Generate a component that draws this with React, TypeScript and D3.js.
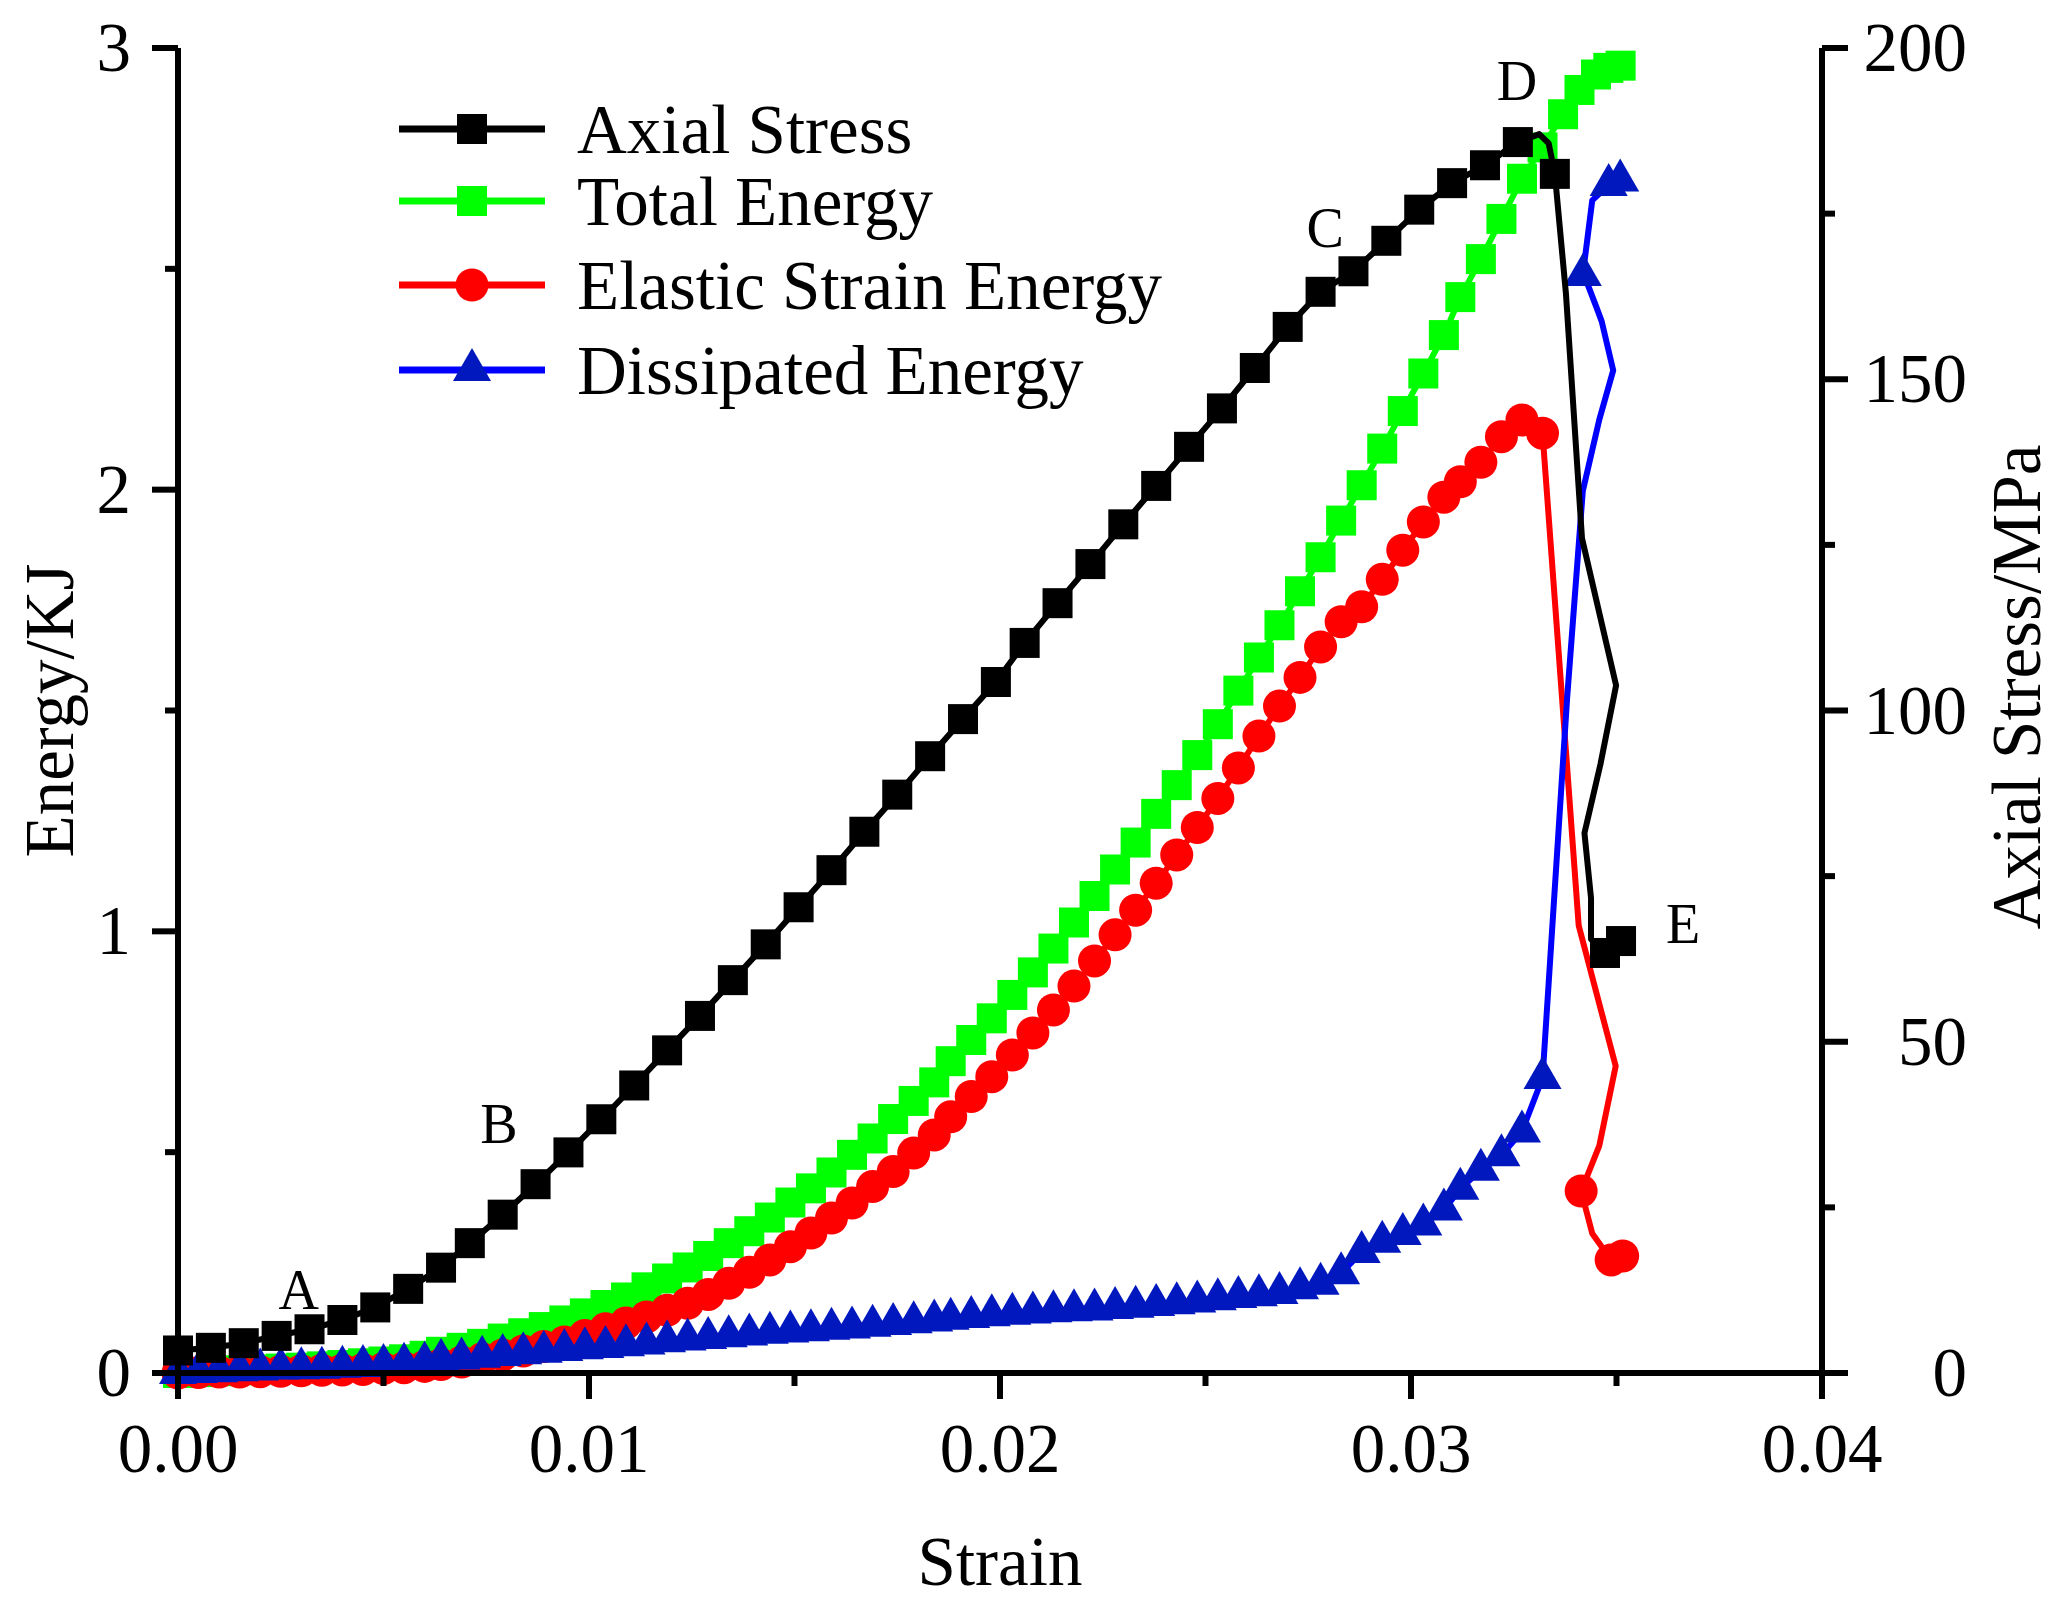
import React from "react";
import * as d3 from "d3";

// strain grid shared by the three energy series (pre-peak part)
const energyStrain = [
  0, 0.0005, 0.001, 0.0015, 0.002, 0.0025, 0.003, 0.0035, 0.004, 0.0045,
  0.005, 0.0055, 0.006, 0.0064, 0.0069, 0.0074, 0.0079, 0.0084, 0.0089, 0.0094,
  0.0099, 0.0104, 0.0109, 0.0114, 0.0119, 0.0124, 0.0129, 0.0134, 0.0139, 0.0144,
  0.0149, 0.0154, 0.0159, 0.0164, 0.0169, 0.0174, 0.0179, 0.0184, 0.0188, 0.0193,
  0.0198, 0.0203, 0.0208, 0.0213, 0.0218, 0.0223, 0.0228, 0.0233, 0.0238, 0.0243,
  0.0248, 0.0253, 0.0258, 0.0263, 0.0268, 0.0273, 0.0278, 0.0283, 0.0288, 0.0293,
  0.0298, 0.0303, 0.0308, 0.0312, 0.0317, 0.0322, 0.0327, 0.0332,
];
const totalEnergy = [
  0, 0.002, 0.004, 0.006, 0.008, 0.01, 0.012, 0.015, 0.018, 0.022,
  0.026, 0.031, 0.039, 0.048, 0.057, 0.066, 0.078, 0.09, 0.104, 0.119,
  0.135, 0.154, 0.171, 0.194, 0.214, 0.239, 0.265, 0.294, 0.321, 0.352,
  0.386, 0.418, 0.454, 0.494, 0.531, 0.575, 0.616, 0.658, 0.706, 0.754,
  0.803, 0.856, 0.907, 0.961, 1.02, 1.08, 1.14, 1.201, 1.266, 1.331,
  1.399, 1.469, 1.545, 1.62, 1.693, 1.77, 1.847, 1.93, 2.01, 2.093,
  2.178, 2.263, 2.35, 2.436, 2.522, 2.613, 2.704, 2.775,
];
const elasticEnergy = [
  0, 0.001, 0.002, 0.002, 0.003, 0.004, 0.005, 0.006, 0.007, 0.008,
  0.01, 0.012, 0.015, 0.019, 0.025, 0.032, 0.041, 0.05, 0.06, 0.07,
  0.085, 0.1, 0.113, 0.127, 0.142, 0.158, 0.178, 0.203, 0.228, 0.256,
  0.286, 0.317, 0.351, 0.385, 0.422, 0.456, 0.498, 0.539, 0.58, 0.626,
  0.671, 0.72, 0.77, 0.822, 0.876, 0.933, 0.992, 1.048, 1.109, 1.173,
  1.235, 1.301, 1.37, 1.442, 1.51, 1.575, 1.644, 1.701, 1.735, 1.797,
  1.863, 1.927, 1.983, 2.018, 2.062, 2.12, 2.158, 2.128,
];
const dissipatedEnergy = [
  0, 0.002, 0.004, 0.006, 0.008, 0.01, 0.011, 0.012, 0.014, 0.016,
  0.018, 0.021, 0.024, 0.03, 0.033, 0.037, 0.041, 0.045, 0.048, 0.052,
  0.056, 0.059, 0.063, 0.067, 0.072, 0.076, 0.079, 0.083, 0.087, 0.091,
  0.094, 0.097, 0.1, 0.103, 0.107, 0.111, 0.115, 0.119, 0.123, 0.127,
  0.131, 0.134, 0.137, 0.14, 0.142, 0.144, 0.147, 0.15, 0.154, 0.158,
  0.162, 0.167, 0.172, 0.176, 0.181, 0.192, 0.202, 0.226, 0.274, 0.297,
  0.315, 0.336, 0.37, 0.417, 0.46, 0.493, 0.547, 0.668,
];

// post-peak parts (1 = drawn with a marker, 0 = line vertex only)
const totalTailStrain = [0.0337, 0.0341, 0.0345, 0.0348, 0.0351];
const totalTailEnergy = [2.85, 2.905, 2.94, 2.955, 2.96];
const totalTailMarked = [1, 1, 1, 1, 1];

const elasticTailStrain = [0.0338, 0.03408, 0.03498, 0.03458, 0.03414, 0.03441, 0.03487, 0.03515];
const elasticTailEnergy = [1.37, 1.013, 0.695, 0.514, 0.412, 0.316, 0.256, 0.265];
const elasticTailMarked = [0, 0, 0, 0, 1, 0, 1, 1];

const dissipatedTailStrain = [0.0338, 0.03418, 0.03458, 0.03492, 0.03464, 0.03452, 0.03431, 0.03418, 0.03441, 0.03481, 0.03509];
const dissipatedTailEnergy = [1.53, 1.997, 2.158, 2.27, 2.381, 2.411, 2.462, 2.486, 2.655, 2.69, 2.7];
const dissipatedTailMarked = [0, 0, 0, 0, 0, 0, 0, 1, 0, 1, 1];

// axial stress (right axis)
const stressStrain = [
  0, 0.0008, 0.0016, 0.0024, 0.0032, 0.004, 0.0048, 0.0056, 0.0064, 0.0071,
  0.0079, 0.0087, 0.0095, 0.0103, 0.0111, 0.0119, 0.0127, 0.0135, 0.0143, 0.0151,
  0.0159, 0.0167, 0.0175, 0.0183, 0.0191, 0.0199, 0.0206, 0.0214, 0.0222, 0.023,
  0.0238, 0.0246, 0.0254, 0.0262, 0.027, 0.0278, 0.0286, 0.0294, 0.0302, 0.031,
  0.0318, 0.0326,
  0.03312, 0.03335, 0.0335, 0.03377, 0.03416, 0.03499, 0.03461, 0.03422, 0.03438, 0.03438,
  0.03472, 0.03511,
];
const stressMPa = [
  3.4, 3.8, 4.5, 5.6, 6.6, 8.0, 9.9, 12.7, 15.9, 19.6,
  23.9, 28.5, 33.3, 38.3, 43.4, 48.7, 53.9, 59.3, 64.7, 70.3,
  75.9, 81.7, 87.3, 93.1, 98.7, 104.3, 110.2, 116.2, 122.1, 128.1,
  133.9, 139.8, 145.6, 151.7, 157.9, 163.2, 166.3, 170.9, 175.6, 179.6,
  182.3, 185.8,
  187.0, 185.6, 181.0, 162.9, 126.0, 103.8, 91.9, 81.5, 71.7, 65.5,
  63.4, 65.2,
];
const stressTailMarked = [0, 0, 1, 0, 0, 0, 0, 0, 0, 0, 1, 1];

const xTicks = [0, 0.01, 0.02, 0.03, 0.04];
const xTickLabels = ["0.00", "0.01", "0.02", "0.03", "0.04"];
const energyTicks = [0, 1, 2, 3];
const stressTicks = [0, 50, 100, 150, 200];

const legendLabels = ["Axial Stress", "Total Energy", "Elastic Strain Energy", "Dissipated Energy"];

// stage letters, placed in (strain, stress) coordinates
const stageLetters = ["A", "B", "C", "D", "E"];
const stageStrain = [0.00294, 0.00781, 0.02791, 0.03258, 0.03662];
const stageStress = [9.7, 34.7, 170.0, 192.2, 64.9];

const FONT = '"Liberation Serif", "Times New Roman", Times, serif';

type Pt = { s: number; v: number; m: number };

function joinSeries(xs: number[], ys: number[], tx: number[], ty: number[], tm: number[]): Pt[] {
  const head = xs.map((s, i) => ({ s, v: ys[i], m: 1 }));
  const tail = tx.map((s, i) => ({ s, v: ty[i], m: tm[i] }));
  return head.concat(tail);
}

const SQ = 30;
const CIRC_R = 16.5;
const TRI_W = 38;
const TRI_H = 33;

function Marker({ shape, cx, cy, fill }: { shape: string; cx: number; cy: number; fill: string }) {
  if (shape === "square")
    return <rect x={cx - SQ / 2} y={cy - SQ / 2} width={SQ} height={SQ} fill={fill} />;
  if (shape === "circle") return <circle cx={cx} cy={cy} r={CIRC_R} fill={fill} />;
  const d = `M${cx},${cy - (2 * TRI_H) / 3}L${cx - TRI_W / 2},${cy + TRI_H / 3}L${cx + TRI_W / 2},${cy + TRI_H / 3}Z`;
  return <path d={d} fill={fill} />;
}

export default function App() {
  const W = 2071;
  const H = 1605;
  const left = 178, right = 1822, top = 48, bottom = 1373;

  const x = d3.scaleLinear().domain([0, 0.04]).range([left, right]);
  const yE = d3.scaleLinear().domain([0, 3]).range([bottom, top]);
  const yS = d3.scaleLinear().domain([0, 200]).range([bottom, top]);

  const stressMarks = stressStrain.map((_, i) => (i < 42 ? 1 : stressTailMarked[i - 42]));
  const stress: Pt[] = stressStrain.map((s, i) => ({ s, v: stressMPa[i], m: stressMarks[i] }));
  const total = joinSeries(energyStrain, totalEnergy, totalTailStrain, totalTailEnergy, totalTailMarked);
  const elastic = joinSeries(energyStrain, elasticEnergy, elasticTailStrain, elasticTailEnergy, elasticTailMarked);
  const dissipated = joinSeries(energyStrain, dissipatedEnergy, dissipatedTailStrain, dissipatedTailEnergy, dissipatedTailMarked);

  const lineE = d3.line<Pt>().x((d) => x(d.s)).y((d) => yE(d.v));
  const lineS = d3.line<Pt>().x((d) => x(d.s)).y((d) => yS(d.v));

  const series = [
    { data: total, line: lineE, y: yE, color: "#00ff00", mark: "#00ff00", shape: "square" },
    { data: elastic, line: lineE, y: yE, color: "#ff0000", mark: "#ff0000", shape: "circle" },
    { data: dissipated, line: lineE, y: yE, color: "#0000ff", mark: "#0018be", shape: "triangle" },
    { data: stress, line: lineS, y: yS, color: "#000000", mark: "#000000", shape: "square" },
  ];

  const legendStyle = [
    { color: "#000000", mark: "#000000", shape: "square" },
    { color: "#00ff00", mark: "#00ff00", shape: "square" },
    { color: "#ff0000", mark: "#ff0000", shape: "circle" },
    { color: "#0000ff", mark: "#0018be", shape: "triangle" },
  ];
  const legendRows = [129, 201, 285, 370];

  const xMinor = d3.range(0.005, 0.04, 0.01);
  const eMinor = [0.5, 1.5, 2.5];
  const sMinor = [25, 75, 125, 175];

  const axisW = 6;
  const fs = 69;

  return (
    <svg
      width={W}
      height={H}
      viewBox={`0 0 ${W} ${H}`}
      style={{ position: "absolute", left: 0, top: 0, background: "#fff" }}
      fontFamily={FONT}
    >
      <rect width={W} height={H} fill="#fff" />

      {/* series: energies first, stress on top */}
      {series.map((sr, k) => (
        <g key={k}>
          <path
            d={sr.line(sr.data) || ""}
            fill="none"
            stroke={sr.color}
            strokeWidth={6}
            strokeLinejoin="round"
            strokeLinecap="round"
          />
          {sr.data
            .filter((d) => d.m === 1)
            .map((d, i) => (
              <Marker key={i} shape={sr.shape} cx={x(d.s)} cy={sr.y(d.v)} fill={sr.mark} />
            ))}
        </g>
      ))}

      {/* axes */}
      <g stroke="#000" strokeWidth={axisW} fill="none">
        <line x1={left} y1={top} x2={left} y2={bottom + axisW / 2} />
        <line x1={right} y1={top} x2={right} y2={bottom + axisW / 2} />
        <line x1={left} y1={bottom} x2={right} y2={bottom} />
        {xTicks.map((t) => (
          <line key={"xt" + t} x1={x(t)} y1={bottom} x2={x(t)} y2={bottom + 26} />
        ))}
        {xMinor.map((t) => (
          <line key={"xm" + t} x1={x(t)} y1={bottom} x2={x(t)} y2={bottom + 13} />
        ))}
        {energyTicks.map((t) => (
          <line key={"et" + t} x1={left} y1={yE(t)} x2={left - 26} y2={yE(t)} />
        ))}
        {eMinor.map((t) => (
          <line key={"em" + t} x1={left} y1={yE(t)} x2={left - 13} y2={yE(t)} />
        ))}
        {stressTicks.map((t) => (
          <line key={"st" + t} x1={right} y1={yS(t)} x2={right + 26} y2={yS(t)} />
        ))}
        {sMinor.map((t) => (
          <line key={"sm" + t} x1={right} y1={yS(t)} x2={right + 13} y2={yS(t)} />
        ))}
      </g>

      {/* tick labels */}
      <g fontSize={fs} fill="#000">
        {xTicks.map((t, i) => (
          <text key={"xl" + t} x={x(t)} y={1472} textAnchor="middle">
            {xTickLabels[i]}
          </text>
        ))}
        {energyTicks.map((t) => (
          <text key={"el" + t} x={131} y={yE(t) + 23} textAnchor="end">
            {t}
          </text>
        ))}
        {stressTicks.map((t) => (
          <text key={"sl" + t} x={1967} y={yS(t) + 23} textAnchor="end">
            {t}
          </text>
        ))}
      </g>

      {/* axis titles */}
      <g fontSize={fs} fill="#000">
        <text x={(left + right) / 2} y={1585} textAnchor="middle">
          Strain
        </text>
        <text transform={`translate(73,${(top + bottom) / 2}) rotate(-90)`} textAnchor="middle">
          Energy/KJ
        </text>
        <text transform={`translate(2040,687) rotate(-90)`} textAnchor="middle">
          Axial Stress/MPa
        </text>
      </g>

      {/* legend */}
      <g>
        {legendLabels.map((lab, i) => (
          <g key={lab}>
            <line x1={399} x2={545} y1={legendRows[i]} y2={legendRows[i]} stroke={legendStyle[i].color} strokeWidth={7} />
            <Marker shape={legendStyle[i].shape} cx={472} cy={legendRows[i]} fill={legendStyle[i].mark} />
            <text x={577} y={legendRows[i] + 24} fontSize={fs} fill="#000">
              {lab}
            </text>
          </g>
        ))}
      </g>

      {/* stage letters */}
      <g fontSize={56} fill="#000">
        {stageLetters.map((t, i) => (
          <text key={t} x={x(stageStrain[i])} y={yS(stageStress[i])} textAnchor="middle">
            {t}
          </text>
        ))}
      </g>
    </svg>
  );
}
